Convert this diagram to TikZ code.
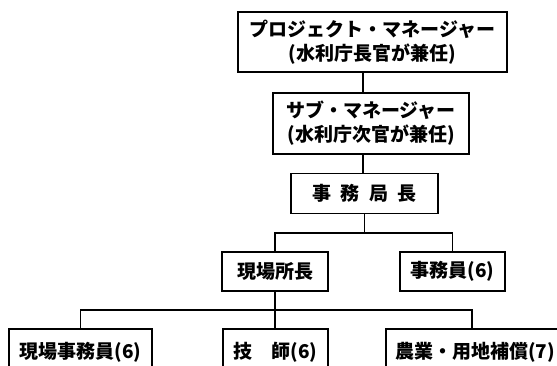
\documentclass[tikz,border=0pt]{standalone}
\usepackage{fontspec}
\setmainfont{Noto Sans CJK JP}
\begin{document}
\begin{tikzpicture}[x=1pt,y=-1pt,
  box/.style={draw, line width=1.6pt, inner sep=0pt, align=center,
    font=\fontsize{19}{24}\selectfont\bfseries},
  link/.style={line width=1.6pt}]
\useasboundingbox (0,0) rectangle (557,366);
\clip (0,0) rectangle (557,366);
\node[box, minimum width=269pt, minimum height=60pt] (pm) at (372.5,42)
  {プロジェクト・マネージャー\\(水利庁長官が兼任)};
\node[box, minimum width=196pt, minimum height=61pt] (sub) at (371,123.5)
  {サブ・マネージャー\\(水利庁次官が兼任)};
\node[box, minimum width=147pt, minimum height=40pt] (kyoku) at (364.5,193.5)
  {事\hspace{0.5em}務\hspace{0.5em}局\hspace{0.5em}長};
\node[box, minimum width=106pt, minimum height=39pt] (genba) at (275,271.5)
  {現場所長};
\node[box, minimum width=105pt, minimum height=39pt] (jimu) at (452.5,271.5)
  {事務員(6)};
\node[box, minimum width=143pt, minimum height=46pt] (gjimu) at (80.5,352)
  {現場事務員(6)};
\node[box, minimum width=105pt, minimum height=46pt] (gishi) at (275.5,352)
  {技\hspace{1em}師(6)};
\node[box, minimum width=178pt, minimum height=46pt] (nogyo) at (475,352)
  {農業・用地補償(7)};
\coordinate (spine) at (363,0);
\coordinate (bar1) at (0,233);
\coordinate (bar2) at (0,310);
\coordinate (drop3) at (472,0);
\draw[link] (pm.south -| spine) -- (sub.north -| spine);
\draw[link] (sub.south -| spine) -- (kyoku.north -| spine);
\draw[link] (kyoku.south) -- (kyoku.south |- bar1);
\draw[link] (genba.north) -- (genba.north |- bar1) -- (jimu.north |- bar1) -- (jimu.north);
\draw[link] (genba.south) -- (gishi.north -| genba.south);
\draw[link] (gjimu.north) -- (gjimu.north |- bar2) -- (drop3 |- bar2) -- (nogyo.north -| drop3);
\end{tikzpicture}
\end{document}
